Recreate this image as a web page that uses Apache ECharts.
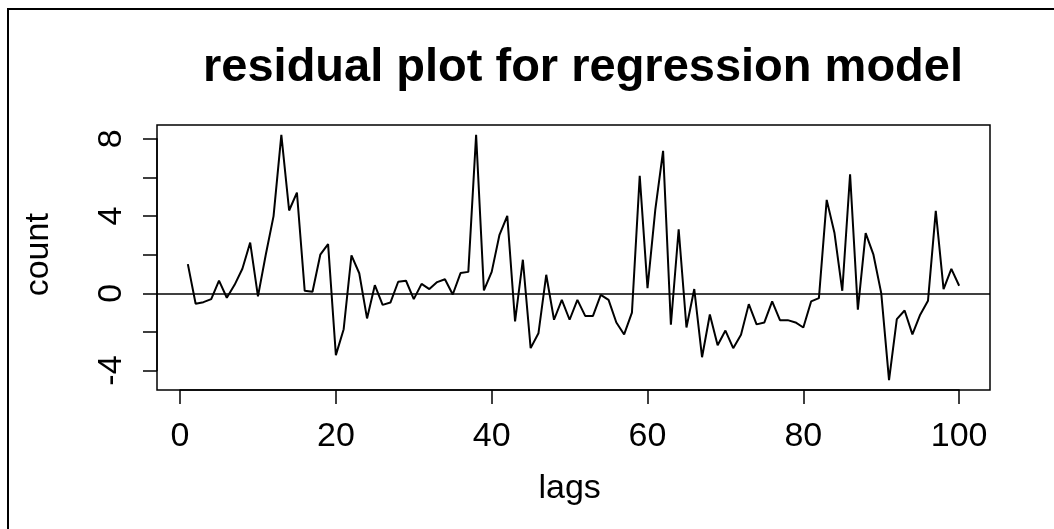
<!DOCTYPE html>
<html><head><meta charset="utf-8">
<script src="https://cdn.jsdelivr.net/npm/echarts@6/dist/echarts.min.js"></script>
<style>html,body{margin:0;padding:0;background:#fff}#c{width:1054px;height:529px}</style>
</head><body><div id="c"></div>
<script>
const titleText = 'residual plot for regression model';
const xName = 'lags';
const yName = 'count';
const xTickStep = 20;
const yTickStep = 2;
const yLabelled = [-4, 0, 4, 8];
const residuals = [
  1.51, -0.54, -0.46, -0.30, 0.66, -0.23, 0.44, 1.27, 2.63, -0.16,
  2.00, 4.00, 8.21, 4.29, 5.22, 0.13, 0.08, 2.00, 2.55, -3.20,
  -1.86, 1.96, 1.04, -1.30, 0.42, -0.60, -0.48, 0.60, 0.65, -0.30,
  0.49, 0.22, 0.58, 0.73, -0.06, 1.05, 1.11, 8.21, 0.15, 1.11,
  3.03, 4.01, -1.46, 1.74, -2.84, -2.07, 0.96, -1.37, -0.34, -1.37,
  -0.34, -1.17, -1.17, -0.08, -0.34, -1.51, -2.13, -1.00, 6.09, 0.27,
  4.33, 7.38, -1.63, 3.32, -1.77, 0.22, -3.31, -1.10, -2.69, -1.93,
  -2.84, -2.15, -0.56, -1.61, -1.51, -0.42, -1.39, -1.39, -1.51, -1.77,
  -0.42, -0.25, 4.84, 3.12, 0.13, 6.17, -0.85, 3.12, 2.00, 0.01,
  -4.50, -1.34, -0.89, -2.13, -1.11, -0.39, 4.27, 0.22, 1.27, 0.39
];

const FONT = "'Liberation Sans', Arial, Helvetica, sans-serif";
const points = residuals.map((v, i) => [i + 1, v]);

// R-style 4% extended ranges
const xs = points.map(p => p[0]);
const xMin0 = Math.min(...xs), xMax0 = Math.max(...xs);
const yMin0 = Math.min(...residuals), yMax0 = Math.max(...residuals);
const xPad = (xMax0 - xMin0) * 0.04, yPad = (yMax0 - yMin0) * 0.04;
const xLo = xMin0 - xPad, xHi = xMax0 + xPad;
const yLo = yMin0 - yPad, yHi = yMax0 + yPad;

// tick ranges
const xtLo = Math.ceil(xLo / xTickStep) * xTickStep, xtHi = Math.floor(xHi / xTickStep) * xTickStep;
const ytLo = Math.ceil(yLo / yTickStep) * yTickStep, ytHi = Math.floor(yHi / yTickStep) * yTickStep;

// box (plot region)
const box = { left: 157, top: 125, width: 833, height: 265 };
const W = 1054, H = 529;
const pxX = v => box.left + (v - xLo) / (xHi - xLo) * box.width;
const pxY = v => box.top + (yHi - v) / (yHi - yLo) * box.height;
const g2 = {
  left: pxX(xtLo), width: pxX(xtHi) - pxX(xtLo),
  top: pxY(ytHi), height: pxY(ytLo) - pxY(ytHi)
};
const xOffset = (box.top + box.height) - (g2.top + g2.height);
const yOffset = g2.left - box.left;

const chart = echarts.init(document.getElementById('c'), null, { renderer: 'canvas' });
chart.setOption({
  animation: false,
  backgroundColor: '#ffffff',
  title: {
    text: titleText, left: 583, top: 45, textAlign: 'center', padding: 0,
    textStyle: { fontFamily: FONT, fontSize: 47, fontWeight: 'bold', color: '#000' }
  },
  graphic: [
    { type: 'line', shape: { x1: 8, y1: 9, x2: 8, y2: H + 5 }, style: { stroke: '#000', lineWidth: 2 } },
    { type: 'line', shape: { x1: 7, y1: 9, x2: W + 5, y2: 9 }, style: { stroke: '#000', lineWidth: 2 } }
  ],
  grid: [
    { left: box.left, top: box.top, width: box.width, height: box.height, show: true,
      borderColor: '#000', borderWidth: 1.5, backgroundColor: 'transparent', containLabel: false },
    { left: g2.left, top: g2.top, width: g2.width, height: g2.height, containLabel: false }
  ],
  xAxis: [
    { gridIndex: 0, type: 'value', min: xLo, max: xHi, show: false },
    { gridIndex: 1, type: 'value', min: xtLo, max: xtHi, interval: xTickStep, offset: xOffset,
      position: 'bottom',
      axisLine: { show: true, onZero: false, lineStyle: { color: '#000', width: 1.5 } },
      axisTick: { show: true, length: 14, lineStyle: { color: '#000', width: 1.5 } },
      axisLabel: { show: true, margin: 30, fontFamily: FONT, fontSize: 34, color: '#000' },
      splitLine: { show: false },
      name: xName, nameLocation: 'middle', nameGap: 82,
      nameTextStyle: { fontFamily: FONT, fontSize: 34, color: '#000' }
    }
  ],
  yAxis: [
    { gridIndex: 0, type: 'value', min: yLo, max: yHi, show: false },
    { gridIndex: 1, type: 'value', min: ytLo, max: ytHi, interval: yTickStep, offset: yOffset,
      position: 'left',
      axisLine: { show: true, onZero: false, lineStyle: { color: '#000', width: 1.5 } },
      axisTick: { show: true, length: 14, lineStyle: { color: '#000', width: 1.5 } },
      axisLabel: { show: true, rotate: 90, margin: 28, fontFamily: FONT, fontSize: 34, color: '#000',
        formatter: v => (yLabelled.indexOf(v) >= 0 ? String(v) : '') },
      splitLine: { show: false },
      name: yName, nameLocation: 'middle', nameGap: 101, nameRotate: 90,
      nameTextStyle: { fontFamily: FONT, fontSize: 34, color: '#000' }
    }
  ],
  series: [
    {
      type: 'line', xAxisIndex: 0, yAxisIndex: 0, data: points,
      showSymbol: false, symbol: 'none', clip: false,
      lineStyle: { color: '#000', width: 2 },
      markLine: {
        silent: true, symbol: 'none', label: { show: false },
        lineStyle: { color: '#000', width: 1.5, type: 'solid' },
        data: [{ yAxis: 0 }]
      }
    }
  ]
});
</script>
</body></html>
